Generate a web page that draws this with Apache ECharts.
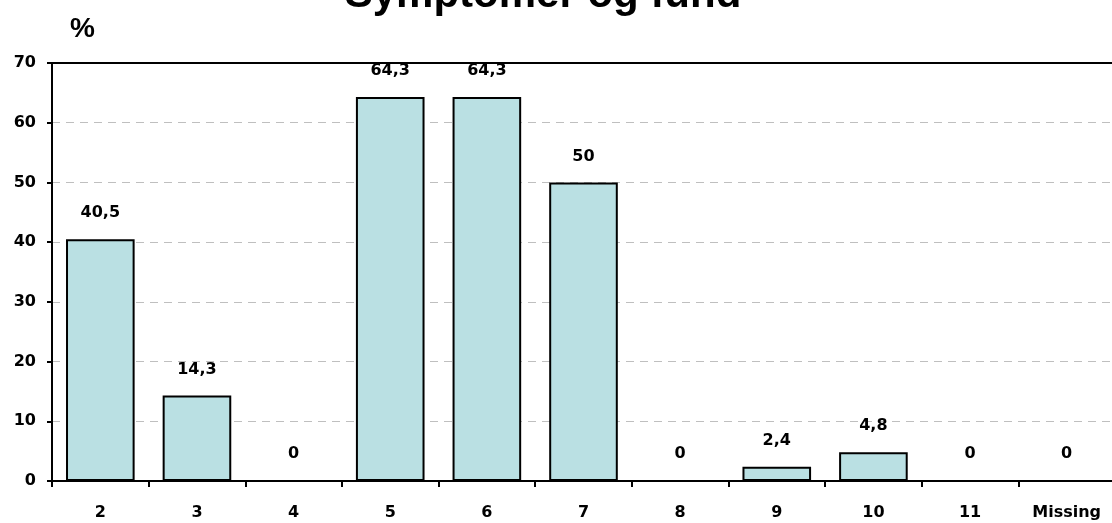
<!DOCTYPE html>
<html><head><meta charset="utf-8">
<script src="https://cdn.jsdelivr.net/npm/echarts@6/dist/echarts.min.js"></script>
<style>html,body{margin:0;padding:0;background:#fff}#c{width:1112px;height:523px}</style>
</head><body><div id="c"></div>
<script>
const categories = ['2','3','4','5','6','7','8','9','10','11','Missing'];
const values = [40.5,14.3,0,64.3,64.3,50,0,2.4,4.8,0,0];
const titleText = 'Symptomer og fund';
const unitText = '%';

const chart = echarts.init(document.getElementById('c'), null, {renderer:'canvas'});
const font = '"Liberation Sans", Arial, sans-serif';
const lblFont = '"DejaVu Sans", sans-serif';
chart.setOption({
  animation:false,
  backgroundColor:'#fff',
  title:{text:titleText,left:538,top:-31,textAlign:'center',
    textStyle:{fontFamily:font,fontSize:42,fontWeight:'bold',color:'#000'}},
  graphic:[{type:'text',left:70,top:15,style:{text:unitText,font:'bold 28px "Liberation Sans", Arial, sans-serif',fill:'#000'}}],
  grid:{left:52,right:-3,top:63,bottom:42,containLabel:false,outerBoundsMode:'none'},
  xAxis:{type:'category',data:categories,boundaryGap:true,
    axisLine:{lineStyle:{color:'#000',width:2}},
    axisTick:{show:true,interval:0,alignWithLabel:false,length:6,lineStyle:{color:'#000',width:2}},
    axisLabel:{interval:0,hideOverlap:false,fontFamily:lblFont,fontSize:16,fontWeight:'bold',color:'#000',margin:24}},
  yAxis:{type:'value',min:0,max:70,interval:10,
    axisLine:{show:true,lineStyle:{color:'#000',width:2}},
    axisTick:{show:true,length:5,lineStyle:{color:'#000',width:2}},
    axisLabel:{fontFamily:lblFont,fontSize:16,fontWeight:'bold',color:'#000',margin:16},
    splitLine:{show:true,lineStyle:{color:'#bfbfbf',type:[8,6],width:1}}},
  series:[{type:'bar',data:values,barCategoryGap:'29%',
    itemStyle:{color:'#BAE0E3',borderColor:'#000',borderWidth:2},
    label:{show:true,position:'top',distance:18,fontFamily:lblFont,fontSize:16,fontWeight:'bold',color:'#000',
      formatter:p=>String(p.value).replace('.',',')}},
   {type:'line',data:[],markLine:{silent:true,symbol:'none',label:{show:false},
      lineStyle:{color:'#000',width:2,type:'solid'},data:[{yAxis:70}]}}]
});
</script></body></html>
